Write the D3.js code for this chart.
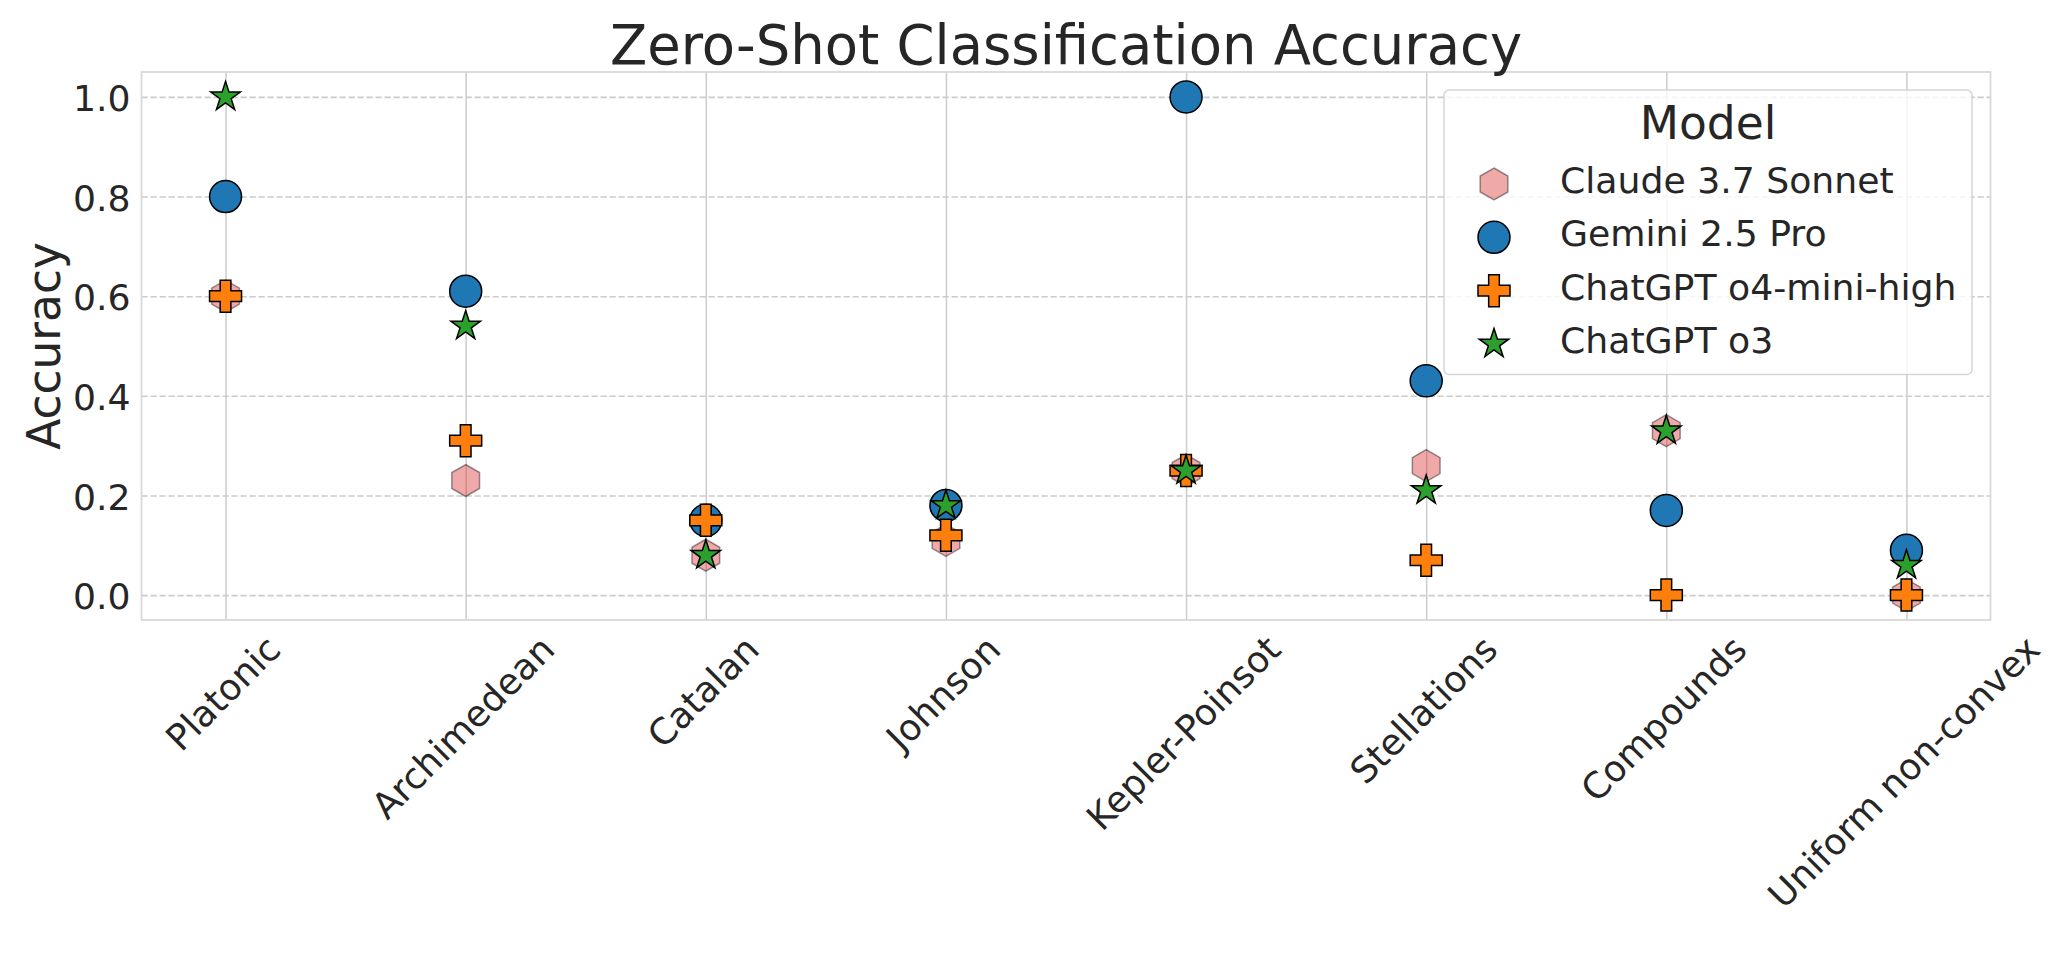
<!DOCTYPE html>
<html>
<head>
<meta charset="utf-8">
<script src="https://cdn.jsdelivr.net/npm/d3@7"></script>
<style>
    html, body { margin: 0; padding: 0; background: #fff; }
    svg { display: block; }
    text { font-family: "DejaVu Sans", sans-serif; fill: #262626; }
</style>
</head>
<body>
<svg id="chart"></svg>
<script>
const categories = ["Platonic", "Archimedean", "Catalan", "Johnson", "Kepler-Poinsot", "Stellations", "Compounds", "Uniform non-convex"];
const yTicks = [0, 0.2, 0.4, 0.6, 0.8, 1.0];

const modelNames = ["Claude 3.7 Sonnet", "Gemini 2.5 Pro", "ChatGPT o4-mini-high", "ChatGPT o3"];
const claudeValues = [0.60, 0.23, 0.08, 0.11, 0.25, 0.26, 0.33, 0.00];
const geminiValues = [0.80, 0.61, 0.15, 0.18, 1.00, 0.43, 0.17, 0.09];
const o4MiniValues = [0.60, 0.31, 0.15, 0.12, 0.25, 0.07, 0.00, 0.00];
const o3Values = [1.00, 0.54, 0.08, 0.18, 0.25, 0.21, 0.33, 0.06];

// pointy-top hexagon, d3 has none built in
const symbolHexagon = {
    draw(context, size) {
        const r = Math.sqrt(size);
        for (let i = 0; i < 6; i++) {
            const a = Math.PI / 3 * i;
            const px = r * Math.sin(a), py = -r * Math.cos(a);
            if (i === 0) context.moveTo(px, py); else context.lineTo(px, py);
        }
        context.closePath();
    }
};

const series = [
    { name: modelNames[0], values: claudeValues, type: symbolHexagon, size: 256, fill: "#d62728", alpha: 0.4 },
    { name: modelNames[1], values: geminiValues, type: d3.symbolCircle, size: 804, fill: "#1f77b4", alpha: 1 },
    { name: modelNames[2], values: o4MiniValues, type: d3.symbolCross, size: 569, fill: "#ff7f0e", alpha: 1 },
    { name: modelNames[3], values: o3Values, type: d3.symbolStar, size: 270, fill: "#2ca02c", alpha: 1 }
];

const tickFont = 36.2;

// set dimensions and margins of graph
const width = 2068, height = 957;
const margin = { top: 72, right: 77.5, bottom: 337, left: 141.5 };
const w = width - margin.left - margin.right,
    h = height - margin.top - margin.bottom;

const svg = d3.select("#chart").attr("width", width).attr("height", height);
const container = svg.append("g").attr("transform", `translate(${margin.left}, ${margin.top})`);

const x = d3.scalePoint().domain(categories).range([0, w]).padding(0.35);
const y = d3.scaleLinear().domain([-0.05, 1.05]).range([h, 0]);

// Add X axis with vertical grid lines
const xAxis = container.append("g")
    .attr("transform", `translate(0, ${h})`)
    .call(d3.axisBottom(x).tickSizeInner(-h).tickSizeOuter(0));
xAxis.select(".domain").remove();
xAxis.selectAll("line").attr("stroke", "#cccccc").attr("stroke-width", 1.5);
xAxis.selectAll("text")
    .style("font-size", tickFont + "px")
    .attr("text-anchor", "middle")
    .attr("dy", null)
    .attr("dominant-baseline", "central")
    .attr("y", null)
    .attr("transform", function () {
        // matplotlib style: bounding box of the rotated label hangs below the axis
        const len = this.getComputedTextLength();
        const drop = (len + tickFont) * Math.SQRT1_2 / 2;
        return `translate(-3, ${10 + drop}) rotate(-45)`;
    });

// Add Y axis with dashed horizontal grid lines
const yAxis = container.append("g")
    .call(d3.axisLeft(y).tickValues(yTicks).tickFormat(d3.format(".1f")).tickSizeInner(-w).tickSizeOuter(0).tickPadding(11));
yAxis.select(".domain").remove();
yAxis.selectAll("line").attr("stroke", "#cccccc").attr("stroke-width", 1.6).attr("stroke-dasharray", "6.3,2.7");
yAxis.selectAll("text").attr("dy", "0.38em").style("font-size", tickFont + "px");

// Spines
container.append("rect")
    .attr("width", w).attr("height", h)
    .attr("fill", "none").attr("stroke", "#d9d9d9").attr("stroke-width", 1.8);

// Add points
series.forEach(s => {
    container.append("g").selectAll("path")
        .data(s.values)
        .join("path")
        .attr("d", d3.symbol().type(s.type).size(s.size))
        .attr("transform", (d, i) => `translate(${x(categories[i])}, ${y(d)})`)
        .attr("fill", s.fill)
        .attr("fill-opacity", s.alpha)
        .attr("stroke", "#000")
        .attr("stroke-opacity", s.alpha)
        .attr("stroke-width", 1.5);
});

// Add chart title
svg.append("text")
    .attr("text-anchor", "middle")
    .attr("x", margin.left + w / 2)
    .attr("y", 64)
    .style("font-size", "54.4px")
    .text("Zero-Shot Classification Accuracy");

// Add Y axis label
svg.append("text")
    .attr("text-anchor", "middle")
    .attr("transform", `translate(60, ${margin.top + h / 2}) rotate(-90)`)
    .style("font-size", "45.5px")
    .text("Accuracy");

// Add legend
const legend = svg.append("g").attr("transform", "translate(1444, 90)");
legend.append("rect")
    .attr("width", 528).attr("height", 284.5).attr("rx", 5)
    .attr("fill", "#fff").attr("fill-opacity", 0.8)
    .attr("stroke", "#cccccc").attr("stroke-opacity", 0.8).attr("stroke-width", 1.5);
legend.append("text")
    .attr("text-anchor", "middle")
    .attr("x", 264).attr("y", 48.5)
    .style("font-size", "45.5px")
    .text("Model");

const rowY = d3.scalePoint().domain(modelNames).range([94, 254]);
const rows = legend.selectAll(".row").data(series).join("g").attr("class", "row")
    .attr("transform", d => `translate(0, ${rowY(d.name)})`);
rows.append("path")
    .attr("d", d => d3.symbol().type(d.type).size(d.size)())
    .attr("transform", "translate(50, 0)")
    .attr("fill", d => d.fill)
    .attr("fill-opacity", d => d.alpha)
    .attr("stroke", "#000")
    .attr("stroke-opacity", d => d.alpha)
    .attr("stroke-width", 1.5);
rows.append("text")
    .attr("x", 116).attr("y", 9)
    .style("font-size", tickFont + "px")
    .text(d => d.name);
</script>
</body>
</html>
